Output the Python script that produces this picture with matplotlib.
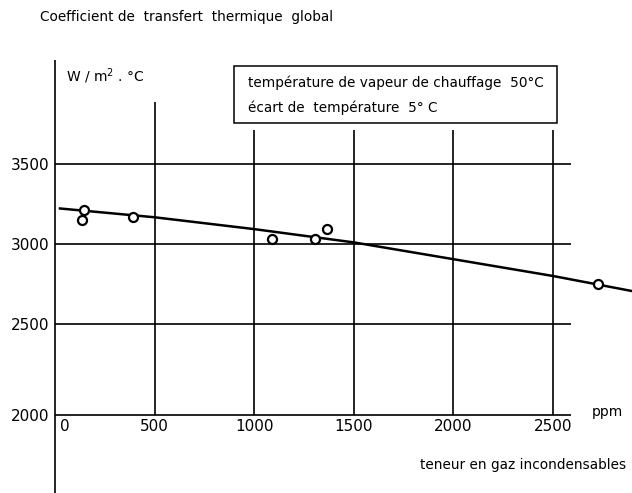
import numpy as np
import matplotlib
matplotlib.use("Agg")
import matplotlib.pyplot as plt
import matplotlib.transforms as mtransforms
from matplotlib.patches import Rectangle

# ---- data ----
ppm_points = [136, 146, 392, 1090, 1307, 1367, 2724]
coef_points = [3148, 3210, 3167, 3031, 3031, 3093, 2750]

ppm_curve = [25, 500, 1000, 1500, 2000, 2500, 2896]
coef_curve = [3222, 3167, 3093, 3010, 2905, 2800, 2706]

x_ticks = [0, 500, 1000, 1500, 2000, 2500]
x_tick_labels = ["0", "500", "1000", "1500", "2000", "2500"]
y_ticks = [2000, 2500, 3000, 3500]
y_tick_labels = ["2000", "2500", "3000", "3500"]

title_text = "Coefficient de  transfert  thermique  global"
unit_text = "W / m$^{2}$ . °C"
legend_lines = ["température de vapeur de chauffage  50°C",
                "écart de  température  5° C"]
x_unit = "ppm"
x_label = "teneur en gaz incondensables"

FONT = "DejaVu Sans"
W, H = 632, 493


def fx(px):
    return px / W


def fy(py):
    return 1 - py / H


# the 2000-2500 band is drawn a bit taller than the others in the original
def fwd(v):
    v = np.asarray(v, dtype=float)
    return np.where(v >= 2500, v, 2500 - (2500 - v) * 91 / 80)


def inv(t):
    t = np.asarray(t, dtype=float)
    return np.where(t >= 2500, t, 2500 - (2500 - t) * 80 / 91)


fig = plt.figure(figsize=(W / 100, H / 100), dpi=100)
fig.patch.set_facecolor("white")
ax = fig.add_axes([fx(55), fy(415), fx(572) - fx(55), fy(60) - fy(415)])
ax.set_yscale("function", functions=(fwd, inv))
ax.set_xlim(0, 2595)
ax.set_ylim(2000, 4150)
for s in ax.spines.values():
    s.set_visible(False)
ax.set_facecolor("none")

lw_grid = 1.2
# y axis line (extends below the x axis)
ax.plot([0, 0], [1572, 4150], color="black", lw=lw_grid, clip_on=False,
        solid_capstyle="butt")
# horizontal lines (x axis + grid)
ax.hlines(y_ticks, 0, 2590, color="black", lw=lw_grid, clip_on=False)
# vertical grid lines
tops = [3889 if t == 500 else 3710 for t in x_ticks[1:]]
ax.vlines(x_ticks[1:], 2000, tops, color="black", lw=lw_grid, clip_on=False)

# trend curve
ax.plot(ppm_curve, coef_curve, color="black", lw=1.8, clip_on=False,
        zorder=3, solid_joinstyle="round")
# measured points
ax.plot(ppm_points, coef_points, linestyle="none", marker="o", ms=6.5,
        mfc="white", mec="black", mew=1.6, clip_on=False, zorder=4)

# ticks
ax.set_xticks(x_ticks)
ax.set_xticklabels(x_tick_labels, fontsize=11, family=FONT)
ax.set_yticks(y_ticks)
ax.set_yticklabels(y_tick_labels, fontsize=11, family=FONT)
ax.tick_params(axis="both", length=0)
ax.tick_params(axis="x", pad=3)
ax.tick_params(axis="y", pad=4)
ax.minorticks_off()
lab0 = ax.get_xticklabels()[0]
lab0.set_horizontalalignment("left")
lab0.set_transform(lab0.get_transform() +
                   mtransforms.ScaledTranslation(5 / 100, 0,
                                                 fig.dpi_scale_trans))

# texts
fig.text(fx(40), fy(17), title_text, fontsize=9.8, family=FONT,
         ha="left", va="center")
fig.text(fx(66), fy(76), unit_text, fontsize=10, family=FONT,
         ha="left", va="center")
fig.text(fx(592), fy(412), x_unit, fontsize=10, family=FONT,
         ha="left", va="center")
fig.text(fx(626), fy(465), x_label, fontsize=9.8, family=FONT,
         ha="right", va="center")

# legend box
fig.patches.append(Rectangle((fx(234), fy(123)), fx(557) - fx(234),
                             fy(66) - fy(123), transform=fig.transFigure,
                             fill=False, edgecolor="black", lw=1.1))
fig.text(fx(248), fy(83), legend_lines[0], fontsize=9.8, family=FONT,
         ha="left", va="center")
fig.text(fx(248), fy(108), legend_lines[1], fontsize=9.8, family=FONT,
         ha="left", va="center")

fig.savefig("out.png", dpi=100, facecolor="white")
